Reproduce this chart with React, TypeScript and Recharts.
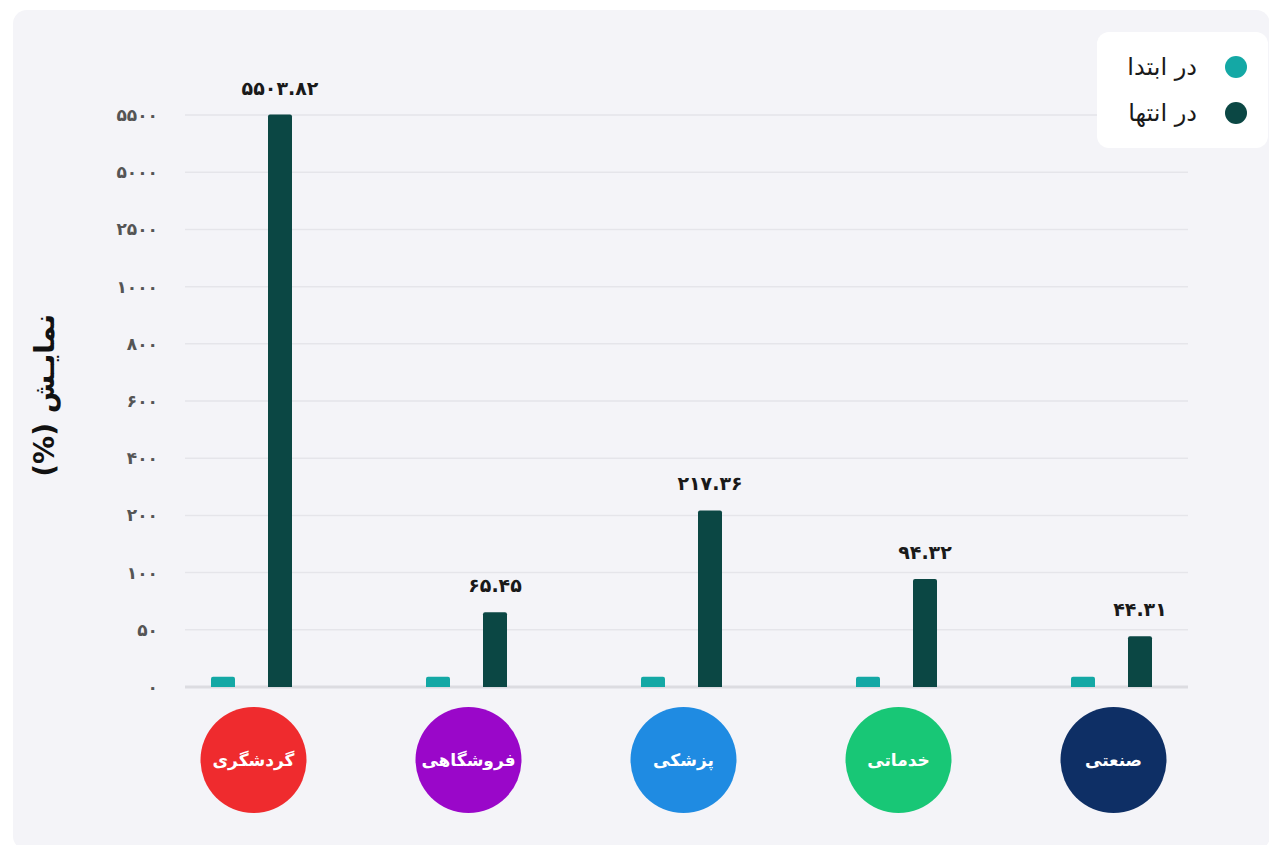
import React from 'react';
import { BarChart, Bar, XAxis, YAxis, CartesianGrid, LabelList } from 'recharts';

const categories = ['گردشگری', 'فروشگاهی', 'پزشکی', 'خدماتی', 'صنعتی'];
const categoryColors = ['#EF2B2E', '#9A07C9', '#1F8BE2', '#18C776', '#0E2F65'];
const startValues = [9, 9, 9, 9, 9];
const endValues = [5503.82, 65.45, 217.36, 94.32, 44.31];
const yTickValues = [0, 50, 100, 200, 400, 600, 800, 1000, 2500, 5000, 5500];

const seriesNames = { start: 'در ابتدا', end: 'در انتها' };
const seriesColors = { start: '#14A8A5', end: '#0B4744' };

const FONT = "'DejaVu Sans', sans-serif";

const toFa = (s: string | number) => String(s).replace(/\d/g, (d) => '۰۱۲۳۴۵۶۷۸۹'[Number(d)]);

// the axis is not linear: every tick gets the same step, values are interpolated between ticks
const toIndex = (v: number) => {
  const t = yTickValues;
  for (let i = 0; i < t.length - 1; i++) {
    if (v <= t[i + 1]) return i + (v - t[i]) / (t[i + 1] - t[i]);
  }
  const n = t.length - 1;
  return n + (v - t[n]) / (t[n] - t[n - 1]);
};

const chartData = categories.map((name, i) => ({
  name,
  start: toIndex(startValues[i]),
  end: toIndex(endValues[i]),
  endRaw: endValues[i],
}));

const YTick = ({ x, y, payload }: any) => (
  <text x={x + 14} y={y} textAnchor="end" dominantBaseline="central" fill="#555" fontSize={17} fontWeight={700} fontFamily={FONT}>
    {toFa(yTickValues[payload.value])}
  </text>
);

const XTick = ({ x, y, payload }: any) => {
  const idx = categories.indexOf(payload.value);
  return (
    <g>
      <circle cx={x + 2} cy={y + 73} r={53} fill={categoryColors[idx]} />
      <text x={x + 2} y={y + 73} textAnchor="middle" dominantBaseline="central" fill="#fff" fontSize={17} fontWeight={700} fontFamily={FONT}>
        {payload.value}
      </text>
    </g>
  );
};

const GridLine = (props: any) => {
  const { x1, x2, y1, y2, index } = props;
  if (y1 < 100) return <g key={`g-${index}`} />;
  const isBase = Math.abs(y1 - 677) < 1;
  return (
    <line
      key={`g-${index}-${y1}`}
      x1={x1 + 41}
      x2={x2 - 31}
      y1={y1}
      y2={y2}
      stroke={isBase ? '#DCDCE1' : '#E5E5EA'}
      strokeWidth={isBase ? 3 : 1.5}
    />
  );
};

const YTitle = ({ viewBox }: any) => {
  const cx = viewBox.x + 32;
  const cy = viewBox.y + viewBox.height / 2;
  return (
    <text x={cx} y={cy} transform={`rotate(-90 ${cx} ${cy})`} direction="rtl" style={{ direction: 'rtl' }} textAnchor="middle" dominantBaseline="central" fill="#111" fontSize={28} fontWeight={700} fontFamily={FONT}>
      نمایـش (%)
    </text>
  );
};

const LegendBox = () => (
  <div
    style={{
      position: 'absolute', left: 1084, top: 22, width: 171, height: 116, background: '#fff', borderRadius: 12,
      direction: 'rtl', boxSizing: 'border-box', paddingRight: 21, display: 'flex', flexDirection: 'column',
      justifyContent: 'center', gap: 20, fontFamily: FONT,
    }}
  >
    {(['start', 'end'] as const).map((k) => (
      <div key={k} style={{ display: 'flex', alignItems: 'center', gap: 28 }}>
        <span style={{ width: 22, height: 22, borderRadius: '50%', background: seriesColors[k], display: 'inline-block' }} />
        <span style={{ fontSize: 24, color: '#1a1a1a', lineHeight: '26px' }}>{seriesNames[k]}</span>
      </div>
    ))}
  </div>
);

const App: React.FC = () => (
  <div style={{ position: 'relative', width: 1261, height: 837 }}>
    <div style={{ position: 'absolute', left: 5, top: 2, width: 1257, height: 840, background: '#F4F4F8', borderRadius: 14 }}>
      <BarChart width={1257} height={835} data={chartData} margin={{ top: 93.6, right: 51, left: 0, bottom: 28 }} barSize={24} barGap={33}>
        <CartesianGrid vertical={false} horizontal={GridLine} />
        <XAxis dataKey="name" axisLine={false} tickLine={false} tickSize={0} tickMargin={0} height={130} interval={0} tick={XTick} />
        <YAxis
          type="number"
          domain={[0, 10.2]}
          ticks={yTickValues.map((_, i) => i)}
          axisLine={false}
          tickLine={false}
          tickSize={0}
          tickMargin={0}
          width={131}
          tick={YTick}
          label={<YTitle />}
        />
        <Bar dataKey="start" name={seriesNames.start} fill={seriesColors.start} radius={[2, 2, 0, 0]} isAnimationActive={false} />
        <Bar dataKey="end" name={seriesNames.end} fill={seriesColors.end} radius={[2, 2, 0, 0]} isAnimationActive={false}>
          <LabelList
            dataKey="endRaw"
            position="top"
            offset={20}
            formatter={(v: any) => toFa(Number(v).toFixed(2))}
            style={{ fill: '#1a1a1a', fontSize: 19, fontWeight: 700, fontFamily: FONT }}
          />
        </Bar>
      </BarChart>
      <LegendBox />
    </div>
  </div>
);

export default App;
